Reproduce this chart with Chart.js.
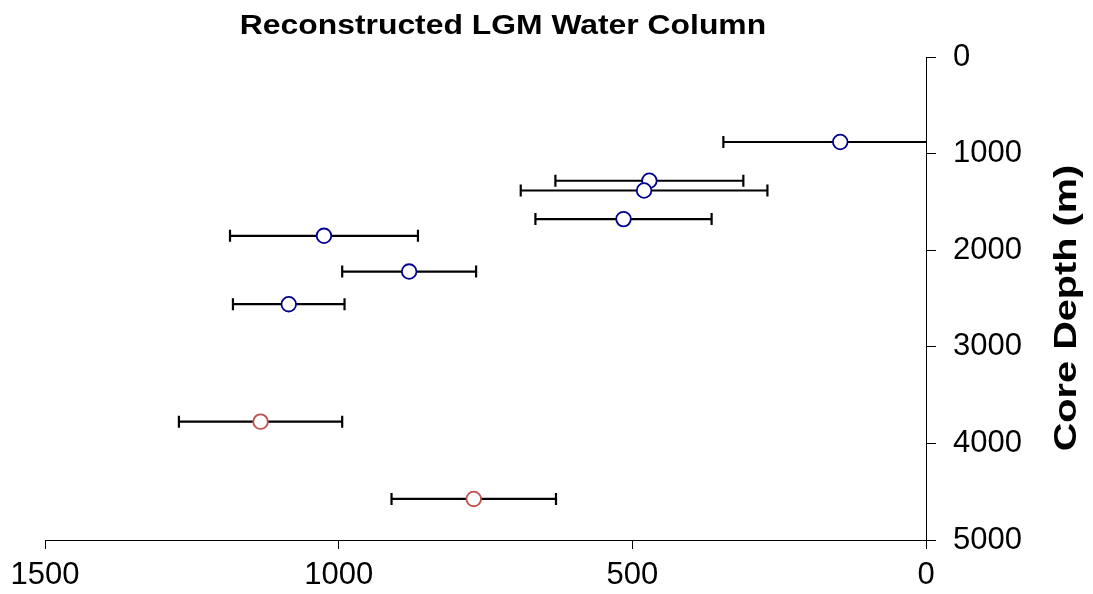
<!DOCTYPE html>
<html><head><meta charset="utf-8">
<script src="https://cdn.jsdelivr.net/npm/chart.js@4.4.0/dist/chart.umd.min.js"></script>
<style>html,body{margin:0;padding:0;background:#fff;}</style>
</head><body>
<canvas id="c" width="1093" height="594"></canvas>
<script>
const chartTitle = 'Reconstructed LGM Water Column';
const yAxisTitle = 'Core Depth (m)';
const xTickValues = [1500, 1000, 500, 0];
const yTickValues = [0, 1000, 2000, 3000, 4000, 5000];
const blueValues = [146, 471, 480, 515, 1025, 880, 1085];
const blueDepths = [880, 1281, 1382, 1678, 1851, 2221, 2559];
const blueErrors = [199, 160, 210, 150, 160, 114, 95];
const redValues = [1133, 770];
const redDepths = [3775, 4575];
const redErrors = [139, 140];

const FONT = '"Liberation Sans", Arial, sans-serif';

const errorBars = {
  id: 'errorBars',
  beforeDatasetsDraw(chart) {
    const ctx = chart.ctx, xs = chart.scales.x, ys = chart.scales.y, a = chart.chartArea;
    ctx.save();
    ctx.beginPath();
    ctx.rect(a.left, a.top - 20, a.right - a.left, a.bottom - a.top + 40);
    ctx.clip();
    ctx.strokeStyle = '#000';
    ctx.lineWidth = 2.2;
    chart.data.datasets.forEach(ds => {
      ds.data.forEach((p, i) => {
        const e = ds.errors[i];
        const x1 = xs.getPixelForValue(p.x - e), x2 = xs.getPixelForValue(p.x + e);
        const y = ys.getPixelForValue(p.y);
        ctx.beginPath();
        ctx.moveTo(x1, y); ctx.lineTo(x2, y);
        ctx.moveTo(x1, y - 6); ctx.lineTo(x1, y + 6);
        ctx.moveTo(x2, y - 6); ctx.lineTo(x2, y + 6);
        ctx.stroke();
      });
    });
    ctx.restore();
  }
};

const titles = {
  id: 'titles',
  afterDraw(chart) {
    const ctx = chart.ctx;
    ctx.save();
    ctx.fillStyle = '#000';
    ctx.font = 'bold 27px ' + FONT;
    ctx.textAlign = 'center';
    ctx.textBaseline = 'alphabetic';
    ctx.translate(503, 34);
    ctx.scale(1.18, 1);
    ctx.fillText(chartTitle, 0, 0);
    ctx.restore();

    ctx.save();
    ctx.fillStyle = '#000';
    ctx.font = 'bold 32px ' + FONT;
    ctx.textAlign = 'center';
    ctx.textBaseline = 'alphabetic';
    ctx.translate(1076, 308);
    ctx.rotate(-Math.PI / 2);
    ctx.scale(1.24, 1);
    ctx.fillText(yAxisTitle, 0, 0);
    ctx.restore();
  }
};

const toPts = (xs, ys) => xs.map((v, i) => ({ x: v, y: ys[i] }));
const plain = v => String(v);

new Chart(document.getElementById('c'), {
  type: 'scatter',
  data: {
    datasets: [
      { label: 'Blue', data: toPts(blueValues, blueDepths), errors: blueErrors,
        borderColor: '#000090', backgroundColor: '#fff', pointRadius: 7.3, pointBorderWidth: 1.8, pointHoverRadius: 7.3 },
      { label: 'Red', data: toPts(redValues, redDepths), errors: redErrors,
        borderColor: '#C0504D', backgroundColor: '#fff', pointRadius: 7.3, pointBorderWidth: 1.8, pointHoverRadius: 7.3 }
    ]
  },
  options: {
    responsive: false,
    devicePixelRatio: 1,
    animation: false,
    layout: { padding: { left: 45, top: 57, right: 0, bottom: 0 } },
    plugins: { legend: { display: false }, tooltip: { enabled: false }, title: { display: false } },
    scales: {
      x: {
        type: 'linear', position: 'bottom', min: 0, max: 1500, reverse: true,
        afterBuildTicks: s => { s.ticks = xTickValues.map(v => ({ value: v })); },
        afterFit: s => { s.height = 54; },
        ticks: { font: { family: FONT, size: 31 }, color: '#000', padding: 8, autoSkip: false, maxRotation: 0, callback: plain },
        grid: { drawOnChartArea: false, drawTicks: true, tickLength: 9, color: '#000', tickColor: '#000' },
        border: { display: true, color: '#000', width: 1 }
      },
      y: {
        type: 'linear', position: 'right', min: 0, max: 5000, reverse: true,
        afterBuildTicks: s => { s.ticks = yTickValues.map(v => ({ value: v })); },
        afterFit: s => { s.width = 167; },
        ticks: { font: { family: FONT, size: 31 }, color: '#000', padding: 17, autoSkip: false, callback: plain },
        grid: { drawOnChartArea: false, drawTicks: true, tickLength: 10, color: '#000', tickColor: '#000' },
        border: { display: true, color: '#000', width: 1 }
      }
    }
  },
  plugins: [errorBars, titles]
});
</script>
</body></html>
